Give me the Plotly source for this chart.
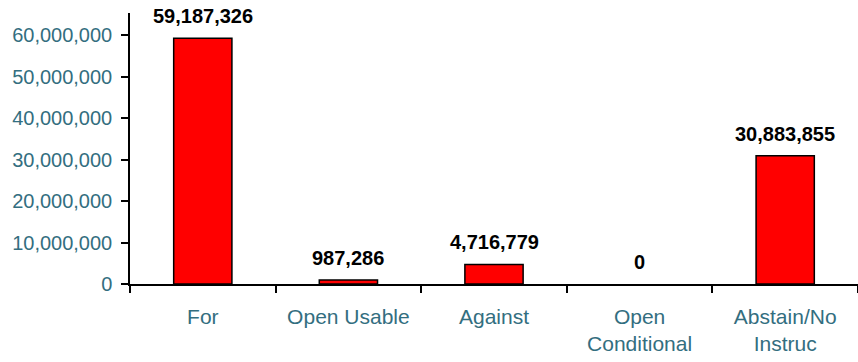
import plotly.graph_objects as go

# Vote tallies per category
categories = ["For", "Open Usable", "Against", "Open<br>Conditional", "Abstain/No<br>Instruc"]
votes = [59187326, 987286, 4716779, 0, 30883855]
y_ticks = [0, 10000000, 20000000, 30000000, 40000000, 50000000, 60000000]

label_color = "#336E80"
font_family = "Liberation Sans, Arial, sans-serif"

fig = go.Figure()
fig.add_trace(go.Bar(
    x=categories,
    y=votes,
    marker=dict(
        color="#FF0000",
        # no outline on empty bars so nothing is drawn on the baseline
        line=dict(color="#000000", width=[1.5 if v > 0 else 0 for v in votes]),
    ),
    width=0.4,
    hoverinfo="skip",
))

# Value labels above each bar
for cat, v in zip(categories, votes):
    fig.add_annotation(
        x=cat, y=v, text=f"<b>{v:,}</b>", showarrow=False,
        yanchor="middle", yshift=22,
        font=dict(family=font_family, size=20, color="#000000"),
    )

fig.update_layout(
    width=858, height=362,
    margin=dict(l=130, r=0, t=13, b=78),
    paper_bgcolor="white", plot_bgcolor="white",
    showlegend=False,
    font=dict(family=font_family),
)
fig.update_xaxes(
    showline=True, linecolor="black", linewidth=1.5,
    ticks="outside", ticklen=7, tickcolor="black", tickwidth=1.5,
    tickson="boundaries",
    tickfont=dict(family=font_family, size=21, color=label_color),
    ticklabelstandoff=13,
    showgrid=False, zeroline=False,
    range=[-0.5, 4.5],
)
fig.update_yaxes(
    range=[0, 65300000],
    tickvals=y_ticks, tickformat=",d",
    showline=True, linecolor="black", linewidth=1.5,
    ticks="outside", ticklen=7, tickcolor="black", tickwidth=1.5,
    tickfont=dict(family=font_family, size=20, color=label_color),
    ticklabelstandoff=5,
    showgrid=False, zeroline=False,
)

fig.write_html("out.html")
